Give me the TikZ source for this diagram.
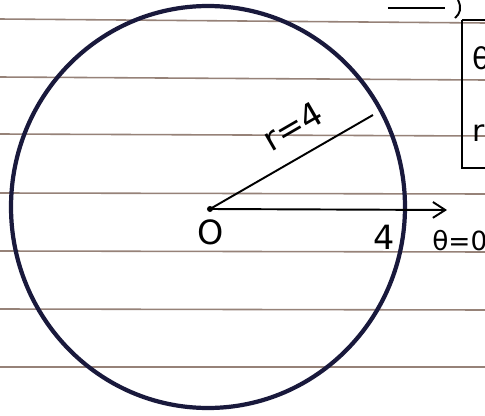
\documentclass[tikz,border=0pt]{standalone}
\usepackage{fontspec}
\setmainfont{DejaVu Sans}
\usetikzlibrary{arrows.meta}
\definecolor{paperline}{RGB}{150,130,120}
\definecolor{ink}{RGB}{25,25,60}
\tikzset{
  ruled/.style={paperline, line width=0.9pt},
  circ/.style={ink, line width=2.4pt},
  pen/.style={black, line width=1.1pt},
  lbl/.style={inner sep=0pt, font=\fontsize{17}{19}\selectfont}
}
\begin{document}
\begin{tikzpicture}[x=0.02cm, y=-0.02cm]
\useasboundingbox (0,0) rectangle (485,416);
\clip (0,0) rectangle (485,416);
\fill[white] (0,0) rectangle (485,416);
% ruled paper lines
\foreach \yy/\dy in {19/4, 77/3, 134/2, 193/1, 251/1, 309/1, 367/0}
  \draw[ruled] (0,\yy) -- (485,\yy+\dy);
% top-right fragments
\draw[pen, line width=1.6pt] (388,8) -- (445,8);
\draw[pen] (458,0) .. controls (462,8) and (460,14) .. (455,18);
\draw[pen] (462,20) -- (490,20) (462,20) -- (462,168) -- (490,168);
\node[lbl, anchor=west] (th) at (472,58) {θ};
\node[lbl, anchor=west] (rr) at (472,133) {r};
% circle
\coordinate (O) at (210,209);
\draw[circ] (208,207) ellipse [x radius=197, y radius=201];
% radius and axis
\coordinate (P) at (373,115);
\coordinate (T) at (447,210);
\fill (O) circle (3);
\draw[pen] (O) -- (P);
\draw[pen, -{Straight Barb[length=7pt,width=9pt]}] (O) -- (T);
% labels
\node[lbl, rotate=30, font=\fontsize{19}{21}\selectfont] (rl) at (293,126) {r=4};
\node[lbl, font=\fontsize{19}{21}\selectfont] (Ol) at (211,232) {O};
\node[lbl, font=\fontsize{19}{21}\selectfont] (four) at (384,237) {4};
\node[lbl, anchor=west, font=\fontsize{15}{17}\selectfont] (thz) at (432,241) {θ=0};
\end{tikzpicture}
\end{document}
